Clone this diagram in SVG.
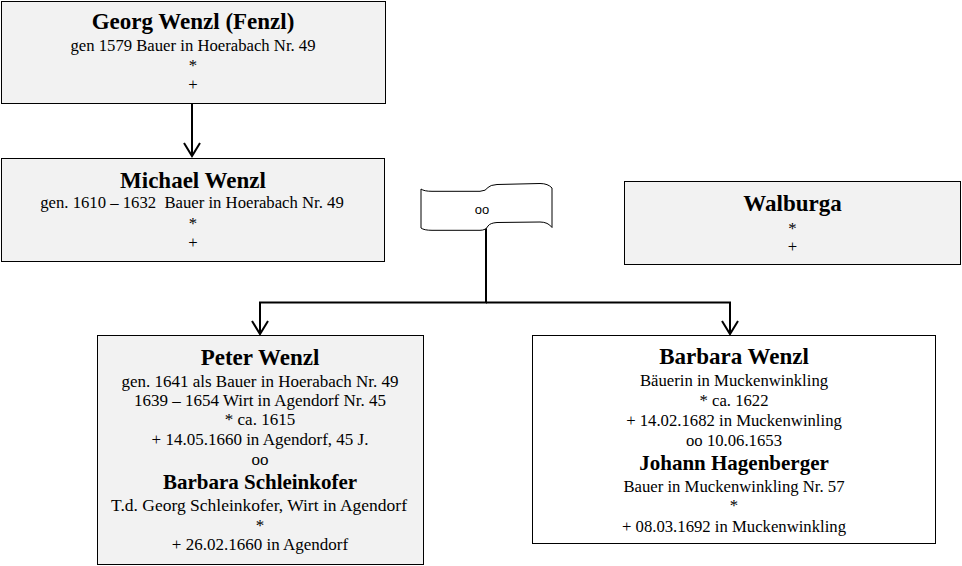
<svg xmlns="http://www.w3.org/2000/svg" width="962" height="566" viewBox="0 0 962 566">
<style>
.box{fill:#f2f2f2;stroke:#000;stroke-width:1}
.wbox{fill:#fff;stroke:#000;stroke-width:1}
text{font-family:"Liberation Serif","Times New Roman",serif;fill:#000;text-anchor:middle}
.t{font-size:23px;font-weight:bold}
.t2{font-size:21px;font-weight:bold}
.b{font-size:16.7px}
.p{font-size:17px}
.s{font-family:"Liberation Sans",Arial,sans-serif;font-size:13px}
.c{fill:none;stroke:#000;stroke-width:2}
</style>
<defs>
<marker id="arr" viewBox="-15 -10 17 20" refX="0" refY="0" markerWidth="17" markerHeight="20" markerUnits="userSpaceOnUse" orient="auto">
<path d="M-13,-8 L0,0 L-13,8" fill="none" stroke="#000" stroke-width="2"/>
</marker>
</defs>
<rect width="962" height="566" fill="#fff"/>
<g id="connectors">
<path class="c" d="M192,103.5 V156" marker-end="url(#arr)"/>
<path class="c" d="M486,228 V302.5 H260 V334" marker-end="url(#arr)"/>
<path class="c" d="M486,302.5 H730 V334" marker-end="url(#arr)"/>
</g>
<g id="georg">
<rect class="box" x="1.5" y="1.5" width="384" height="102"/>
<text class="t" x="193" y="28.5">Georg Wenzl (Fenzl)</text>
<text class="b" x="193" y="50.5">gen 1579 Bauer in Hoerabach Nr. 49</text>
<text class="b" x="193" y="70.5">*</text>
<text class="b" x="193" y="90">+</text>
</g>
<g id="michael">
<rect class="box" x="1.5" y="158.5" width="383" height="103"/>
<text class="t" x="193" y="187.5">Michael Wenzl</text>
<text class="b" x="192" y="208" style="white-space:pre">gen. 1610 – 1632  Bauer in Hoerabach Nr. 49</text>
<text class="b" x="193" y="228.5">*</text>
<text class="b" x="193" y="248">+</text>
</g>
<g id="oo">
<path d="M421,189 Q424,191.3 432,191.3 L480,191.3 Q486,191 488,187.5 Q490,185 497,184.5 L540,183.5 Q548,183.5 552,188 L552,227.5 Q548,222 540,222 L497,222.5 Q490,223 488,226 Q486,230.3 480,230.3 L432,230.3 Q424,230.3 421,228 Z" fill="#fff" stroke="#000" stroke-width="1"/>
<text class="s" x="482" y="214">oo</text>
</g>
<g id="walburga">
<rect class="box" x="624.5" y="181.5" width="336" height="83"/>
<text class="t" x="792.5" y="210.5">Walburga</text>
<text class="b" x="792.5" y="234">*</text>
<text class="b" x="792.5" y="251.5">+</text>
</g>
<g id="peter">
<rect class="box" x="97.5" y="335.5" width="326" height="229"/>
<text class="t" x="260" y="364.5">Peter Wenzl</text>
<text class="p" x="260" y="386.5">gen. 1641 als Bauer in Hoerabach Nr. 49</text>
<text class="p" x="260" y="405.5">1639 – 1654 Wirt in Agendorf Nr. 45</text>
<text class="p" x="260" y="425">* ca. 1615</text>
<text class="p" x="260" y="445">+ 14.05.1660 in Agendorf, 45 J.</text>
<text class="p" x="260" y="465">oo</text>
<text class="t2" x="260" y="488.5">Barbara Schleinkofer</text>
<text class="p" x="259" y="511" style="font-size:17.5px">T.d. Georg Schleinkofer, Wirt in Agendorf</text>
<text class="p" x="260" y="531">*</text>
<text class="p" x="260" y="550">+ 26.02.1660 in Agendorf</text>
</g>
<g id="barbara">
<rect class="wbox" x="532.5" y="335.5" width="403" height="208"/>
<text class="t" x="734" y="364">Barbara Wenzl</text>
<text class="b" x="734" y="386">Bäuerin in Muckenwinkling</text>
<text class="b" x="734" y="406">* ca. 1622</text>
<text class="b" x="734" y="426">+ 14.02.1682 in Muckenwinling</text>
<text class="b" x="734" y="446">oo 10.06.1653</text>
<text class="t2" x="734" y="469.5">Johann Hagenberger</text>
<text class="b" x="734" y="491.5">Bauer in Muckenwinkling Nr. 57</text>
<text class="b" x="734" y="511">*</text>
<text class="b" x="734" y="531.5">+ 08.03.1692 in Muckenwinkling</text>
</g>
</svg>
